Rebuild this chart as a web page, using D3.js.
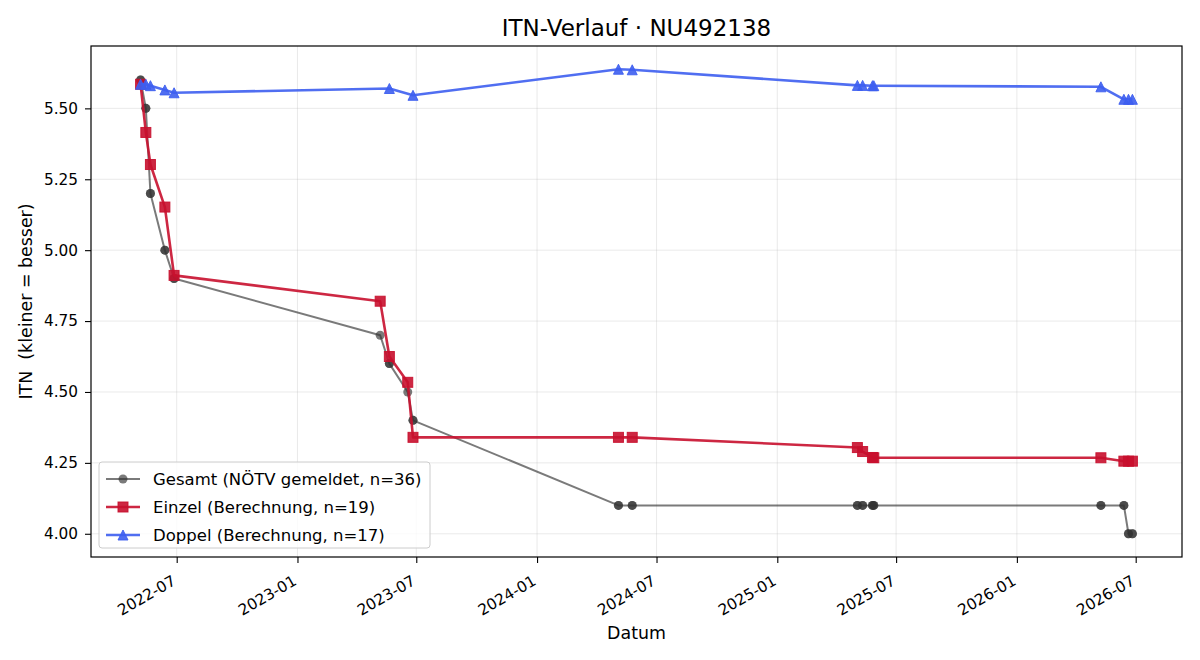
<!DOCTYPE html>
<html>
<head>
<meta charset="utf-8">
<script src="https://cdn.jsdelivr.net/npm/d3@7"></script>
<style>
  body { margin: 0; background: #fff; }
  svg { font-family: "DejaVu Sans", sans-serif; }
  .axis path, .axis line { stroke: #000; stroke-width: 1.1; }
</style>
</head>
<body>
<svg id="chart"></svg>
<script>
const chartTitle = "ITN-Verlauf · NU492138";
const xLabel = "Datum";
const yLabel = "ITN  (kleiner = besser)";
const yTicks = [4.00, 4.25, 4.50, 4.75, 5.00, 5.25, 5.50];

const seriesNames = ["Gesamt (NÖTV gemeldet, n=36)", "Einzel (Berechnung, n=19)", "Doppel (Berechnung, n=17)"];

// Gesamt: one reported value per match date (Einzel + Doppel dates)
const gesamtDates = [
  "2022-05-07","2022-05-07","2022-05-15","2022-05-15","2022-05-22","2022-05-22",
  "2022-06-13","2022-06-13","2022-06-27","2022-06-27",
  "2023-05-07","2023-05-21","2023-05-21","2023-06-18","2023-06-26","2023-06-26",
  "2024-05-04","2024-05-04","2024-05-25","2024-05-25",
  "2025-05-03","2025-05-03","2025-05-11","2025-05-11","2025-05-26","2025-05-26","2025-05-28","2025-05-28",
  "2026-05-09","2026-05-09","2026-06-13","2026-06-13","2026-06-20","2026-06-20","2026-06-26","2026-06-26"
];
const gesamtValues = [
  5.60, 5.60, 5.50, 5.50, 5.20, 5.20,
  5.00, 5.00, 4.90, 4.90,
  4.70, 4.60, 4.60, 4.50, 4.40, 4.40,
  4.10, 4.10, 4.10, 4.10,
  4.10, 4.10, 4.10, 4.10, 4.10, 4.10, 4.10, 4.10,
  4.10, 4.10, 4.10, 4.10, 4.00, 4.00, 4.00, 4.00
];

const einzelDates = [
  "2022-05-07","2022-05-15","2022-05-22","2022-06-13","2022-06-27",
  "2023-05-07","2023-05-21","2023-06-18","2023-06-26",
  "2024-05-04","2024-05-25",
  "2025-05-03","2025-05-11","2025-05-26","2025-05-28",
  "2026-05-09","2026-06-13","2026-06-20","2026-06-26"
];
const einzelValues = [
  5.585, 5.415, 5.302, 5.152, 4.911,
  4.820, 4.625, 4.534, 4.340,
  4.340, 4.340,
  4.304, 4.290, 4.269, 4.268,
  4.268, 4.256, 4.256, 4.256
];

const doppelDates = [
  "2022-05-07","2022-05-15","2022-05-22","2022-06-13","2022-06-27",
  "2023-05-21","2023-06-26",
  "2024-05-04","2024-05-25",
  "2025-05-03","2025-05-11","2025-05-26","2025-05-28",
  "2026-05-09","2026-06-13","2026-06-20","2026-06-26"
];
const doppelValues = [
  5.585, 5.585, 5.580, 5.565, 5.555,
  5.570, 5.546,
  5.638, 5.636,
  5.581, 5.581, 5.580, 5.580,
  5.576, 5.532, 5.532, 5.532
];

const parse = d3.timeParse("%Y-%m-%d");
const toPoints = (dates, values) => dates.map((d, i) => ({date: parse(d), value: values[i]}));

const series = [
  {name: seriesNames[0], data: toPoints(gesamtDates, gesamtValues), color: "#333333", opacity: 0.65, width: 2, marker: "circle"},
  {name: seriesNames[1], data: toPoints(einzelDates, einzelValues), color: "#c8102e", opacity: 0.9, width: 2.6, marker: "square"},
  {name: seriesNames[2], data: toPoints(doppelDates, doppelValues), color: "#3d5ef0", opacity: 0.9, width: 2.6, marker: "triangle"}
];

const width = 1200, height = 660;
const margin = {top: 46, right: 18, bottom: 103, left: 91};

const svg = d3.select("#chart").attr("width", width).attr("height", height);

const all = series.flatMap(s => s.data);
const dExt = d3.extent(all, d => d.date);
const dPad = (dExt[1] - dExt[0]) * 0.05;
const vExt = d3.extent(all, d => d.value);
const vPad = (vExt[1] - vExt[0]) * 0.05;

const x = d3.scaleTime()
  .domain([new Date(+dExt[0] - dPad), new Date(+dExt[1] + dPad)])
  .range([margin.left, width - margin.right]);

const y = d3.scaleLinear()
  .domain([vExt[0] - vPad, vExt[1] + vPad])
  .range([height - margin.bottom, margin.top]);

const xTicks = x.ticks(d3.timeMonth.every(6));

// grid
svg.append("g").selectAll("line").data(xTicks).join("line")
  .attr("x1", d => x(d)).attr("x2", d => x(d))
  .attr("y1", margin.top).attr("y2", height - margin.bottom)
  .attr("stroke", "#b0b0b0").attr("stroke-opacity", 0.3).attr("stroke-width", 0.9);
svg.append("g").selectAll("line").data(yTicks).join("line")
  .attr("x1", margin.left).attr("x2", width - margin.right)
  .attr("y1", d => y(d)).attr("y2", d => y(d))
  .attr("stroke", "#b0b0b0").attr("stroke-opacity", 0.3).attr("stroke-width", 0.9);

// axes
const xAxis = svg.append("g")
  .attr("class", "axis")
  .attr("transform", "translate(0," + (height - margin.bottom) + ")")
  .call(d3.axisBottom(x).tickValues(xTicks).tickFormat(d3.timeFormat("%Y-%m")).tickSize(6).tickSizeOuter(0))
  .attr("font-family", "DejaVu Sans")
  .attr("font-size", 15.3);
xAxis.select(".domain").remove();
xAxis.selectAll("text")
  .attr("fill", "#000")
  .attr("text-anchor", "end")
  .attr("dy", "0.75em")
  .attr("y", 0)
  .attr("transform", "translate(-6,17) rotate(-30)");

const yAxis = svg.append("g")
  .attr("class", "axis")
  .attr("transform", "translate(" + margin.left + ",0)")
  .call(d3.axisLeft(y).tickValues(yTicks).tickFormat(d3.format(".2f")).tickSize(6).tickPadding(7))
  .attr("font-family", "DejaVu Sans")
  .attr("font-size", 15.3);
yAxis.select(".domain").remove();
yAxis.selectAll("text").attr("fill", "#000");

svg.append("rect")
  .attr("x", margin.left).attr("y", margin.top)
  .attr("width", width - margin.left - margin.right)
  .attr("height", height - margin.top - margin.bottom)
  .attr("fill", "none").attr("stroke", "#000").attr("stroke-width", 1.2);

// lines and markers
const line = d3.line().x(d => x(d.date)).y(d => y(d.value));

function drawMarker(g, type, color, opacity, cx, cy, s) {
  if (type === "circle") {
    g.append("circle").attr("cx", cx).attr("cy", cy).attr("r", s / 2)
      .attr("fill", color).attr("fill-opacity", opacity);
  } else if (type === "square") {
    g.append("rect").attr("x", cx - s / 2).attr("y", cy - s / 2).attr("width", s).attr("height", s)
      .attr("fill", color).attr("fill-opacity", opacity)
      .attr("stroke", color).attr("stroke-opacity", opacity).attr("stroke-width", 1);
  } else {
    const h = s / 2;
    g.append("path")
      .attr("d", "M" + cx + "," + (cy - h) + "L" + (cx + h) + "," + (cy + h) + "L" + (cx - h) + "," + (cy + h) + "Z")
      .attr("fill", color).attr("fill-opacity", opacity)
      .attr("stroke", color).attr("stroke-opacity", opacity).attr("stroke-width", 1);
  }
}

const plot = svg.append("g");
series.forEach(s => {
  plot.append("path")
    .datum(s.data)
    .attr("d", line)
    .attr("fill", "none")
    .attr("stroke", s.color)
    .attr("stroke-opacity", s.opacity)
    .attr("stroke-width", s.width)
    .attr("stroke-linejoin", "round");
  const mg = plot.append("g");
  s.data.forEach(d => {
    drawMarker(mg, s.marker, s.color, s.opacity, x(d.date), y(d.value), s.marker === "circle" ? 9 : 10);
  });
});

// labels
svg.append("text")
  .attr("x", (margin.left + width - margin.right) / 2)
  .attr("y", 36)
  .attr("text-anchor", "middle")
  .style("font-size", "23px")
  .text(chartTitle);

svg.append("text")
  .attr("x", (margin.left + width - margin.right) / 2)
  .attr("y", 639)
  .attr("text-anchor", "middle")
  .style("font-size", "17.4px")
  .text(xLabel);

svg.append("text")
  .attr("transform", "translate(32," + ((margin.top + height - margin.bottom) / 2) + ") rotate(-90)")
  .attr("text-anchor", "middle")
  .attr("xml:space", "preserve")
  .style("white-space", "pre")
  .style("font-size", "17.4px")
  .text(yLabel);

// legend
const legend = svg.append("g").attr("transform", "translate(99,462)");
legend.append("rect")
  .attr("width", 331).attr("height", 86).attr("rx", 3)
  .attr("fill", "#fff").attr("fill-opacity", 0.8)
  .attr("stroke", "#cccccc").attr("stroke-width", 1);
series.forEach((s, i) => {
  const cy = 17 + i * 28;
  legend.append("line")
    .attr("x1", 7).attr("x2", 41).attr("y1", cy).attr("y2", cy)
    .attr("stroke", s.color).attr("stroke-opacity", s.opacity).attr("stroke-width", s.width);
  drawMarker(legend, s.marker, s.color, s.opacity, 24, cy, s.marker === "circle" ? 9 : 10);
  legend.append("text")
    .attr("x", 54).attr("y", cy).attr("dy", "0.35em")
    .style("font-size", "16.5px")
    .text(s.name);
});
</script>
</body>
</html>
